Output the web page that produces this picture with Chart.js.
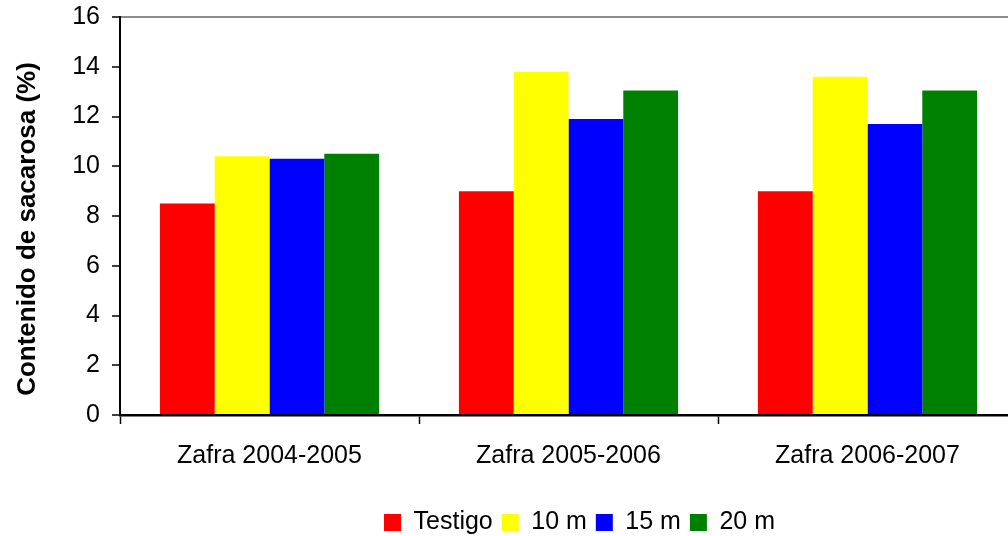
<!DOCTYPE html>
<html>
<head>
<meta charset="utf-8">
<script src="https://cdn.jsdelivr.net/npm/chart.js@4/dist/chart.umd.min.js"></script>
<style>
html,body{margin:0;padding:0;background:#fff;overflow:hidden;}
#wrap{width:1020px;height:550px;position:relative;}
</style>
</head>
<body>
<div id="wrap"><canvas id="c"></canvas></div>
<script>
const categories = ["Zafra 2004-2005", "Zafra 2005-2006", "Zafra 2006-2007"];
const seriesNames = ["Testigo", "10 m", "15 m", "20 m"];
const testigo = [8.5, 9.0, 9.0];
const m10 = [10.4, 13.8, 13.6];
const m15 = [10.3, 11.9, 11.7];
const m20 = [10.5, 13.05, 13.05];
const yTicks = [0, 2, 4, 6, 8, 10, 12, 14, 16];
const colors = ["#ff0000", "#ffff00", "#0000ff", "#008000"];
const yTitle = "Contenido de sacarosa (%)";

const seriesValues = [testigo, m10, m15, m20];
const FONT = "'Liberation Sans', Arial, sans-serif";

// draws the y-axis title, centred where the reference places it
const yTitlePlugin = {
  id: 'yTitlePlugin',
  afterDraw(chart) {
    const ctx = chart.ctx;
    ctx.save();
    ctx.translate(28, 229);
    ctx.rotate(-Math.PI / 2);
    ctx.font = "bold 26px " + FONT;
    ctx.fillStyle = '#000';
    ctx.textAlign = 'center';
    ctx.textBaseline = 'middle';
    ctx.fillText(yTitle, 0, 0);
    ctx.restore();
  }
};

// nudges the legend block to the right, as in the reference
const legendShift = {
  id: 'legendShift',
  afterLayout(chart) {
    if (chart.legend) { chart.legend.left += 11; chart.legend.right += 11; }
  }
};

new Chart(document.getElementById('c'), {
  type: 'bar',
  data: {
    labels: categories,
    datasets: seriesNames.map((n, i) => ({
      label: n,
      data: seriesValues[i],
      backgroundColor: colors[i],
      borderWidth: 0,
      barPercentage: 1.0,
      categoryPercentage: 0.733
    }))
  },
  plugins: [yTitlePlugin, legendShift],
  options: {
    responsive: true,
    maintainAspectRatio: false,
    animation: false,
    layout: { padding: { top: 0, right: 3, bottom: 5, left: 0 } },
    plugins: {
      tooltip: { enabled: false },
      legend: {
        position: 'bottom',
        fullSize: false,
        labels: {
          color: '#000',
          font: { family: FONT, size: 25 },
          boxWidth: 17,
          boxHeight: 17,
          padding: 9
        }
      }
    },
    scales: {
      x: {
        offset: true,
        grid: {
          offset: true,
          drawOnChartArea: false,
          tickLength: 9,
          tickColor: '#000',
          tickWidth: 1.5
        },
        border: { color: '#000', width: 2.5 },
        ticks: {
          color: '#000',
          font: { family: FONT, size: 25 },
          padding: 17,
          maxRotation: 0
        },
        afterFit: (axis) => { axis.height = 86; }
      },
      y: {
        min: 0,
        max: 16,
        afterBuildTicks: (axis) => { axis.ticks = yTicks.map(v => ({ value: v })); },
        afterFit: (axis) => { axis.width = 120; },
        grid: {
          drawOnChartArea: true,
          color: (ctx) => (ctx.tick && ctx.tick.value === 16) ? '#8c8c8c' : 'rgba(0,0,0,0)',
          lineWidth: 2,
          tickLength: 8,
          tickColor: '#000',
          tickWidth: 1.5
        },
        border: { color: '#000', width: 2 },
        ticks: {
          color: '#000',
          font: { family: FONT, size: 25, lineHeight: 0.4 },
          padding: 12
        },
        title: { display: false, text: yTitle }
      }
    }
  }
});
</script>
</body>
</html>
